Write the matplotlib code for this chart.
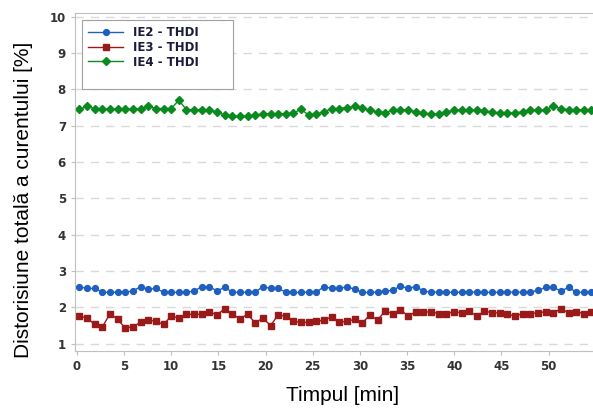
import numpy as np
import matplotlib
matplotlib.use("Agg")
import matplotlib.pyplot as plt
from matplotlib.lines import Line2D

# === DATOS ===
# tiempo de muestreo [min]
n_puntos = 68
timp = 0.27 + 0.81 * np.arange(n_puntos)

ie2_thdi = [2.57, 2.52, 2.52, 2.42, 2.41, 2.42, 2.42, 2.45, 2.57, 2.50, 2.52, 2.42,
            2.41, 2.42, 2.42, 2.45, 2.57, 2.57, 2.45, 2.55, 2.42, 2.41, 2.42, 2.42,
            2.57, 2.52, 2.52, 2.42, 2.41, 2.41, 2.42, 2.42, 2.57, 2.52, 2.52, 2.57,
            2.50, 2.41, 2.41, 2.42, 2.45, 2.47, 2.59, 2.52, 2.57, 2.45, 2.42,
            2.42, 2.42, 2.41, 2.42, 2.42, 2.42, 2.42, 2.41, 2.42, 2.42, 2.42, 2.42,
            2.42, 2.47, 2.55, 2.55, 2.45, 2.55, 2.42, 2.41, 2.42]

ie3_thdi = [1.76, 1.71, 1.53, 1.46, 1.83, 1.67, 1.43, 1.47, 1.59, 1.65, 1.62, 1.53,
            1.76, 1.71, 1.81, 1.81, 1.81, 1.87, 1.80, 1.96, 1.81, 1.69,
            1.81, 1.57, 1.71, 1.50, 1.79, 1.76, 1.62, 1.59, 1.59, 1.62, 1.65, 1.74,
            1.59, 1.62, 1.67, 1.57, 1.79, 1.65, 1.90, 1.83, 1.94, 1.76,
            1.88, 1.87, 1.88, 1.83, 1.83, 1.88, 1.85, 1.90, 1.76, 1.90, 1.85, 1.85,
            1.81, 1.76, 1.83, 1.83, 1.85, 1.88, 1.85, 1.96, 1.85, 1.88, 1.83, 1.86]

ie4_thdi = [7.45, 7.53, 7.47, 7.45, 7.45, 7.45, 7.45, 7.45, 7.47, 7.53, 7.47, 7.47,
            7.47, 7.70, 7.44, 7.44, 7.44, 7.42, 7.38, 7.29, 7.26, 7.26, 7.26, 7.29,
            7.32, 7.33, 7.33, 7.33, 7.35, 7.45, 7.29, 7.32, 7.38, 7.47,
            7.47, 7.50, 7.53, 7.50, 7.42, 7.38, 7.35, 7.44, 7.44, 7.44, 7.38, 7.35,
            7.32, 7.32, 7.38, 7.42, 7.44, 7.44, 7.42, 7.40, 7.38, 7.35, 7.35, 7.35,
            7.38, 7.44, 7.42, 7.44, 7.53, 7.47, 7.44, 7.44, 7.44, 7.44]

x_ticks = [0, 5, 10, 15, 20, 25, 30, 35, 40, 45, 50]
y_ticks = [1, 2, 3, 4, 5, 6, 7, 8, 9, 10]

# === FIGURA ===
fig = plt.figure(figsize=(5.93, 4.09), dpi=100)
ax = fig.add_axes([0.1265, 0.1418, 0.8735, 0.8264])

ax.plot(timp, ie2_thdi, color="#1f5fbf", marker="o", markersize=4.2, linewidth=1.0,
        label="IE2 - THDI")
ax.plot(timp, ie3_thdi, color="#9a1a1a", marker="s", markersize=4.2, linewidth=1.0,
        label="IE3 - THDI")
ax.plot(timp, ie4_thdi, color="#0a8a1e", marker="D", markersize=4.5, linewidth=1.0,
        label="IE4 - THDI")

ax.set_xlim(-0.2, 54.7)
ax.set_ylim(0.8, 10.1)
ax.set_xticks(x_ticks)
ax.set_yticks(y_ticks)

# Grilla horizontal punteada
ax.yaxis.grid(True, linestyle=(0, (6, 5)), color="#d9d9d9", linewidth=1.0)
ax.set_axisbelow(True)

for lado in ["left", "bottom", "top"]:
    ax.spines[lado].set_color("#c0c0c0")
ax.spines["right"].set_visible(False)

ax.tick_params(axis="both", colors="#c0c0c0", labelcolor="#333333",
               labelsize=8.5, length=3)
for lbl in ax.get_xticklabels() + ax.get_yticklabels():
    lbl.set_fontweight("bold")

ax.set_xlabel("Timpul [min]", fontsize=15, family="Liberation Sans")
ax.set_ylabel("Distorisiune totală a curentului [%]", fontsize=15,
              family="Liberation Sans")
ax.xaxis.set_label_coords(0.517, -0.104)
ax.yaxis.set_label_coords(-0.081, 0.447)

# Leyenda (con espacio libre al final como en el original)
handles, labels = ax.get_legend_handles_labels()
labels = [l + " " * 7 for l in labels]
handles.append(Line2D([], [], linestyle="none"))
labels.append(" ")
leg = ax.legend(handles, labels, loc="upper left", bbox_to_anchor=(0.0135, 0.979),
                borderaxespad=0, fancybox=False, edgecolor="#a0a0a0", framealpha=1,
                handlelength=3.0, labelspacing=0.15, borderpad=0.5,
                prop={"size": 8.5, "weight": "bold"})
leg.get_frame().set_linewidth(0.8)
for t in leg.get_texts():
    t.set_color("#1a1a3a")

fig.savefig("out.png", dpi=100)
